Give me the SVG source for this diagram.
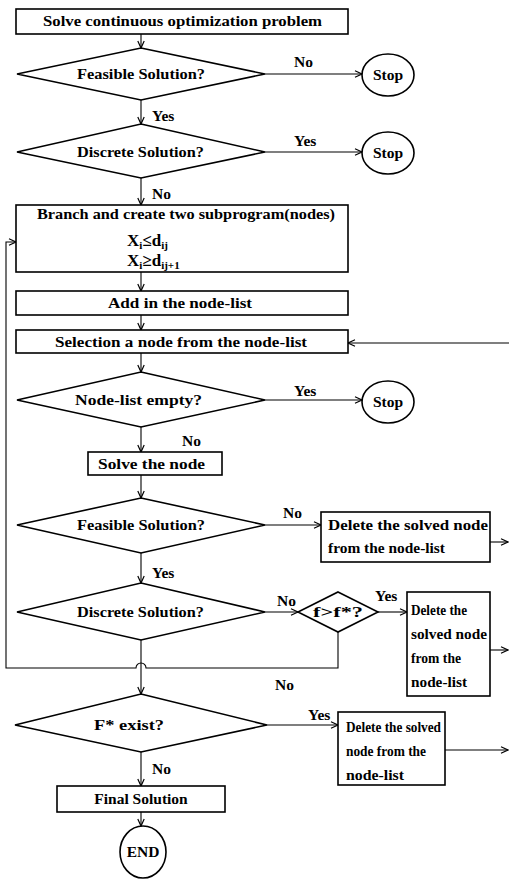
<svg xmlns="http://www.w3.org/2000/svg" width="509" height="879" viewBox="0 0 509 879">
<defs>
<marker id="ah" markerWidth="10" markerHeight="10" refX="8" refY="4" orient="auto" markerUnits="userSpaceOnUse">
<path d="M1,0.8 L8,4 L1,7.2" fill="none" stroke="#000" stroke-width="1.2"/>
</marker>
</defs>
<style>
.box{fill:#fff;stroke:#000;stroke-width:1.6}
.t{font-family:"Liberation Serif","Times New Roman",serif;font-size:15.5px;font-weight:bold;fill:#000}
.c{text-anchor:middle}
.x{font-size:17px}
.ar{fill:none;stroke:#000;stroke-width:1.1;marker-end:url(#ah)}
.sub{font-size:11px}
</style>
<rect width="509" height="879" fill="#fff"/>

<g id="connectors">
<line class="ar" x1="141" y1="34" x2="141" y2="48"/>
<line class="ar" x1="265" y1="74" x2="362" y2="74"/>
<line class="ar" x1="141" y1="100" x2="141" y2="124"/>
<line class="ar" x1="265" y1="152" x2="362" y2="152"/>
<line class="ar" x1="141" y1="178" x2="141" y2="205"/>
<line class="ar" x1="141" y1="272" x2="141" y2="291"/>
<line class="ar" x1="141" y1="315" x2="141" y2="330"/>
<line class="ar" x1="509" y1="343" x2="348" y2="343"/>
<line class="ar" x1="141" y1="353" x2="141" y2="372"/>
<line class="ar" x1="265" y1="400" x2="362" y2="400"/>
<line class="ar" x1="141" y1="427" x2="141" y2="452"/>
<line class="ar" x1="141" y1="475" x2="141" y2="498"/>
<line class="ar" x1="265" y1="525" x2="321" y2="525"/>
<line class="ar" x1="490" y1="542" x2="508" y2="542"/>
<line class="ar" x1="141" y1="553" x2="141" y2="583"/>
<line class="ar" x1="265" y1="612" x2="298" y2="612"/>
<line class="ar" x1="378" y1="612" x2="407" y2="612"/>
<line class="ar" x1="490" y1="650" x2="508" y2="650"/>
<path class="ar" d="M338,632 L338,668 L146,668 A5,5 0 0 0 136,668 L6,668 L6,242 L16,242"/>
<line class="ar" x1="141" y1="640" x2="141" y2="694"/>
<line class="ar" x1="267" y1="725" x2="338" y2="725"/>
<line class="ar" x1="445" y1="750" x2="508" y2="750"/>
<line class="ar" x1="141" y1="752" x2="141" y2="786"/>
<line class="ar" x1="141" y1="812" x2="141" y2="826"/>
<text class="t" x="294" y="67">No</text>
<text class="t" x="152" y="121">Yes</text>
<text class="t" x="294" y="146">Yes</text>
<text class="t" x="152" y="199">No</text>
<text class="t" x="294" y="396">Yes</text>
<text class="t" x="182" y="446">No</text>
<text class="t" x="283" y="518">No</text>
<text class="t" x="152" y="578">Yes</text>
<text class="t" x="277" y="606">No</text>
<text class="t" x="375" y="601">Yes</text>
<text class="t" x="275" y="690">No</text>
<text class="t" x="308" y="720">Yes</text>
<text class="t" x="152" y="774">No</text>
</g>

<g id="n1">
<rect class="box" x="16" y="9" width="332" height="25"/>
<text class="t" x="43" y="26" textLength="279" lengthAdjust="spacingAndGlyphs">Solve continuous optimization problem</text>
</g>
<g id="n2">
<polygon class="box" points="141,48 265,74 141,100 17,74"/>
<text class="t" x="77" y="79" textLength="128" lengthAdjust="spacingAndGlyphs">Feasible Solution?</text>
</g>
<g id="n3">
<ellipse class="box" cx="388" cy="75" rx="26" ry="21"/>
<text class="t c" x="388" y="80">Stop</text>
</g>
<g id="n4">
<polygon class="box" points="141,124 265,152 141,178 17,152"/>
<text class="t" x="77" y="157" textLength="127" lengthAdjust="spacingAndGlyphs">Discrete Solution?</text>
</g>
<g id="n5">
<ellipse class="box" cx="388" cy="153" rx="26" ry="21"/>
<text class="t c" x="388" y="158">Stop</text>
</g>
<g id="n6">
<rect class="box" x="16" y="205" width="332" height="67"/>
<text class="t" x="37" y="219" textLength="298" lengthAdjust="spacingAndGlyphs">Branch and create two subprogram(nodes)</text>
<text class="t x" x="127" y="246">X<tspan class="sub" dy="3">i</tspan><tspan dy="-3">≤d</tspan><tspan class="sub" dy="3">ij</tspan></text>
<text class="t x" x="127" y="266">X<tspan class="sub" dy="3">i</tspan><tspan dy="-3">≥d</tspan><tspan class="sub" dy="3">ij+1</tspan></text>
</g>
<g id="n7">
<rect class="box" x="16" y="291" width="332" height="24"/>
<text class="t" x="108" y="308" textLength="144" lengthAdjust="spacingAndGlyphs">Add in the node-list</text>
</g>
<g id="n8">
<rect class="box" x="16" y="330" width="332" height="23"/>
<text class="t" x="55" y="347" textLength="252" lengthAdjust="spacingAndGlyphs">Selection a node from the node-list</text>
</g>
<g id="n9">
<polygon class="box" points="141,372 265,400 141,427 17,400"/>
<text class="t" x="75" y="405" textLength="127" lengthAdjust="spacingAndGlyphs">Node-list empty?</text>
</g>
<g id="n10">
<ellipse class="box" cx="388" cy="402" rx="26" ry="21"/>
<text class="t c" x="388" y="407">Stop</text>
</g>
<g id="n11">
<rect class="box" x="88" y="452" width="134" height="23"/>
<text class="t" x="98" y="469" textLength="107" lengthAdjust="spacingAndGlyphs">Solve the node</text>
</g>
<g id="n12">
<polygon class="box" points="141,498 265,525 141,553 17,525"/>
<text class="t" x="77" y="530" textLength="128" lengthAdjust="spacingAndGlyphs">Feasible Solution?</text>
</g>
<g id="n13">
<rect class="box" x="321" y="512" width="169" height="50"/>
<text class="t" x="328" y="530" textLength="160" lengthAdjust="spacingAndGlyphs">Delete the solved node</text>
<text class="t" x="328" y="553" textLength="117" lengthAdjust="spacingAndGlyphs">from the node-list</text>
</g>
<g id="n14">
<polygon class="box" points="141,583 265,612 141,640 17,612"/>
<text class="t" x="77" y="617" textLength="127" lengthAdjust="spacingAndGlyphs">Discrete Solution?</text>
</g>
<g id="n15">
<polygon class="box" points="338,592 378,612 338,632 298,612"/>
<text class="t" x="313" y="617" textLength="50" lengthAdjust="spacingAndGlyphs">f&gt;f*?</text>
</g>
<g id="n16">
<rect class="box" x="407" y="592" width="83" height="104"/>
<text class="t" x="411" y="615" textLength="56" lengthAdjust="spacingAndGlyphs">Delete the</text>
<text class="t" x="411" y="639" textLength="76" lengthAdjust="spacingAndGlyphs">solved node</text>
<text class="t" x="411" y="663" textLength="50" lengthAdjust="spacingAndGlyphs">from the</text>
<text class="t" x="411" y="687" textLength="56" lengthAdjust="spacingAndGlyphs">node-list</text>
</g>
<g id="n17">
<polygon class="box" points="141,694 267,725 141,752 15,725"/>
<text class="t" x="94" y="730" textLength="70" lengthAdjust="spacingAndGlyphs">F* exist?</text>
</g>
<g id="n18">
<rect class="box" x="338" y="712" width="107" height="73"/>
<text class="t" x="346" y="732" textLength="95" lengthAdjust="spacingAndGlyphs">Delete the solved</text>
<text class="t" x="346" y="756" textLength="80" lengthAdjust="spacingAndGlyphs">node from the</text>
<text class="t" x="346" y="780" textLength="58" lengthAdjust="spacingAndGlyphs">node-list</text>
</g>
<g id="n19">
<rect class="box" x="57" y="786" width="168" height="26"/>
<text class="t c" x="141" y="804">Final Solution</text>
</g>
<g id="n20">
<ellipse class="box" cx="143" cy="852" rx="23" ry="26"/>
<text class="t c" x="143" y="857">END</text>
</g>
</svg>
